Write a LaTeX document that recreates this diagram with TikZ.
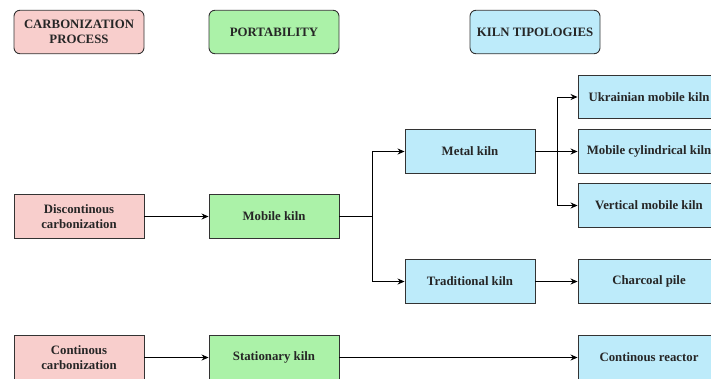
\documentclass[tikz,border=0pt]{standalone}
\usepackage{fontspec}
\setmainfont{Liberation Serif}
\usetikzlibrary{arrows.meta}
\definecolor{pinkfill}{HTML}{F8CECC}
\definecolor{greenfill}{HTML}{ABF2A8}
\definecolor{bluefill}{HTML}{BDEBFA}
\definecolor{edgegray}{HTML}{333333}
\begin{document}
\begin{tikzpicture}[x=1pt,y=-1pt,
        every node/.style={font=\fontsize{12.8}{15}\selectfont\bfseries,text=black!85},
        box/.style={draw=edgegray,line width=0.9pt,minimum width=130pt,minimum height=43.5pt,align=center,inner sep=0pt},
        title/.style={box,rounded corners=6pt},
        wide/.style={box,fill=bluefill,minimum width=142pt},
        link/.style={line width=0.9pt,-{Stealth[length=7pt,width=6pt]}}]
        \useasboundingbox (0,0) rectangle (711,378);

        %%%%%%% Titoli %%%%%%%
        \node[title,fill=pinkfill] (proc) at (79,32) {CARBONIZATION\\PROCESS};
        \node[title,fill=greenfill] (port) at (274,32) {PORTABILITY};
        \node[title,fill=bluefill] (tipo) at (535,32) {KILN TIPOLOGIES};

        %%%%%%% Processo %%%%%%%
        \node[box,fill=pinkfill] (discont) at (79,216.5) {Discontinous\\carbonization};
        \node[box,fill=pinkfill] (cont) at (79,357.5) {Continous\\carbonization};

        %%%%%%% Portabilita %%%%%%%
        \node[box,fill=greenfill] (mobile) at (274,216.5) {Mobile kiln};
        \node[box,fill=greenfill] (station) at (274,357.5) {Stationary kiln};

        %%%%%%% Tipologie %%%%%%%
        \node[box,fill=bluefill] (metal) at (470,151.5) {Metal kiln};
        \node[box,fill=bluefill] (trad) at (470,281.5) {Traditional kiln};
        \node[wide] (ukr) at (649,97) {Ukrainian mobile kiln};
        \node[wide] (cyl) at (649,151.5) {Mobile cylindrical kiln};
        \node[wide] (vert) at (649,205.5) {Vertical mobile kiln};
        \node[wide] (pile) at (649,281.5) {Charcoal pile};
        \node[wide] (reactor) at (649,357.5) {Continous reactor};

        %%%%%%% Frecce %%%%%%%
        \draw[link] (discont) -- (mobile);
        \draw[link] (cont) -- (station);
        \draw[line width=0.9pt] (mobile.east) -- ++(33,0) coordinate (split1);
        \draw[link] (split1) |- (metal);
        \draw[link] (split1) |- (trad);
        \draw[line width=0.9pt] (metal.east) -- ++(22,0) coordinate (split2);
        \draw[link] (split2) |- (ukr);
        \draw[link] (metal) -- (cyl);
        \draw[link] (split2) |- (vert);
        \draw[link] (trad) -- (pile);
        \draw[link] (station) -- (reactor);
    \end{tikzpicture}
\end{document}
